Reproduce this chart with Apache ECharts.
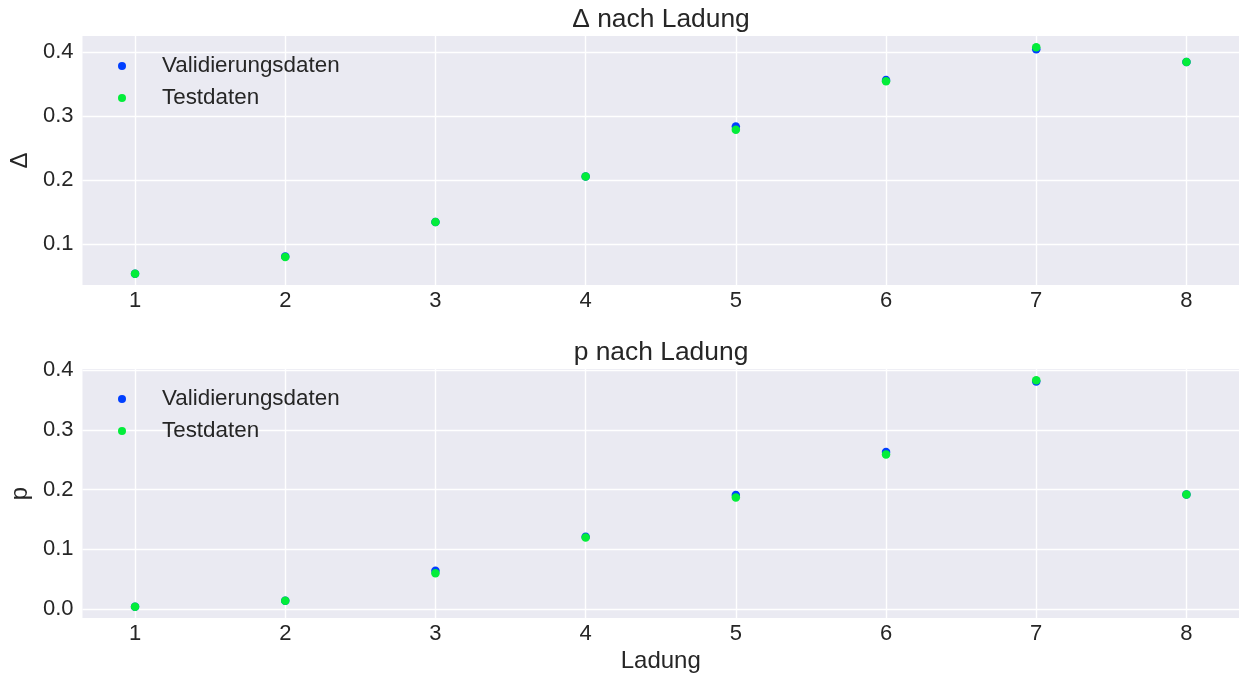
<!DOCTYPE html>
<html>
<head>
<meta charset="utf-8">
<title>Δ und p nach Ladung</title>
<script src="https://cdn.jsdelivr.net/npm/echarts@6/dist/echarts.min.js"></script>
<style>
  html, body { margin: 0; padding: 0; background: #ffffff; }
  #chart { width: 1239px; height: 679px; }
</style>
</head>
<body>
<div id="chart"></div>
<script>
// Ladung (charge) on the x axis
const ladung = [1, 2, 3, 4, 5, 6, 7, 8];

// Δ per charge
const deltaValidierung = [0.054, 0.081, 0.135, 0.206, 0.284, 0.357, 0.405, 0.385];
const deltaTest        = [0.054, 0.080, 0.135, 0.206, 0.279, 0.355, 0.408, 0.385];

// p per charge
const pValidierung = [0.004, 0.014, 0.064, 0.121, 0.191, 0.263, 0.381, 0.192];
const pTest        = [0.004, 0.014, 0.060, 0.120, 0.187, 0.259, 0.383, 0.192];

const seriesNames = ['Validierungsdaten', 'Testdaten'];
const titles = ['Δ nach Ladung', 'p nach Ladung'];
const yNames = ['Δ', 'p'];
const xName = 'Ladung';

const FONT = 'Liberation Sans, Arial, sans-serif';
const TEXT = '#262626';
const BLUE = '#003FFF';
const GREEN = '#03ED3A';

function pairs(xs, ys) { return xs.map((x, i) => [x, ys[i]]); }

// axis ranges padded by 5% of the data span on each side
function padded(arrs, frac) {
  const all = [].concat(...arrs);
  const lo = Math.min(...all), hi = Math.max(...all);
  const m = (hi - lo) * frac;
  return [lo - m, hi + m];
}
const xRange = padded([ladung], 0.05);
const yTop = padded([deltaValidierung, deltaTest], 0.05);
const yBottom = padded([pValidierung, pTest], 0.05);

// the plot panels run slightly past the right edge of the canvas
const grids = [
  { left: 80, width: 1162, top: 36, height: 249 },
  { left: 80, width: 1162, top: 369, height: 249 }
];

function xAxis(gridIndex, withName) {
  return {
    type: 'value', gridIndex,
    min: xRange[0], max: xRange[1],
    minInterval: 1, maxInterval: 1,
    axisLine: { show: false }, axisTick: { show: false },
    axisLabel: {
      color: TEXT, fontFamily: FONT, fontSize: 22, margin: 5,
      showMinLabel: false, showMaxLabel: false,
      formatter: v => (Number.isInteger(v) ? String(v) : '')
    },
    splitLine: { show: true, showMinLine: false, showMaxLine: false,
      lineStyle: { color: '#ffffff', width: 1.4 } },
    name: withName ? xName : '',
    nameLocation: 'middle', nameGap: 31,
    nameTextStyle: { color: TEXT, fontFamily: FONT, fontSize: 24 }
  };
}

function yAxis(gridIndex, range, name) {
  return {
    type: 'value', gridIndex,
    min: range[0], max: range[1],
    minInterval: 0.1, maxInterval: 0.1,
    axisLine: { show: false }, axisTick: { show: false },
    axisLabel: {
      color: TEXT, fontFamily: FONT, fontSize: 22, margin: 9,
      showMinLabel: false, showMaxLabel: false,
      formatter: v => v.toFixed(1)
    },
    splitLine: { show: true, showMinLine: false, showMaxLine: false,
      lineStyle: { color: '#ffffff', width: 1.4 } },
    name, nameLocation: 'middle', nameGap: 36, nameRotate: 90,
    nameTextStyle: { color: TEXT, fontFamily: FONT, fontSize: 24 }
  };
}

function scatter(name, idx, xs, ys, color) {
  return {
    name, type: 'scatter', xAxisIndex: idx, yAxisIndex: idx,
    data: pairs(xs, ys), symbol: 'circle', symbolSize: 8.5,
    itemStyle: { color, opacity: 1 }, silent: true
  };
}

function legend(top) {
  return {
    data: seriesNames, orient: 'vertical', left: 118, top,
    padding: 0, itemWidth: 70, itemHeight: 8, itemGap: 10,
    icon: 'circle', selectedMode: false,
    textStyle: { color: TEXT, fontFamily: FONT, fontSize: 22.4, lineHeight: 22 }
  };
}

const chart = echarts.init(document.getElementById('chart'), null, { renderer: 'canvas' });
chart.setOption({
  backgroundColor: '#ffffff',
  animation: false,
  color: [BLUE, GREEN],
  title: titles.map((t, i) => ({
    text: t, left: 656, textAlign: 'center', top: i === 0 ? 2 : 335,
    textStyle: { color: TEXT, fontFamily: FONT, fontSize: 26.4, fontWeight: 'normal' }
  })),
  legend: [legend(55), legend(388)],
  grid: grids.map(g => Object.assign({ show: true, backgroundColor: '#EAEAF2', borderWidth: 0 }, g)),
  xAxis: [xAxis(0, false), xAxis(1, true)],
  yAxis: [yAxis(0, yTop, yNames[0]), yAxis(1, yBottom, yNames[1])],
  series: [
    scatter(seriesNames[0], 0, ladung, deltaValidierung, BLUE),
    scatter(seriesNames[1], 0, ladung, deltaTest, GREEN),
    scatter(seriesNames[0], 1, ladung, pValidierung, BLUE),
    scatter(seriesNames[1], 1, ladung, pTest, GREEN)
  ]
});
</script>
</body>
</html>
